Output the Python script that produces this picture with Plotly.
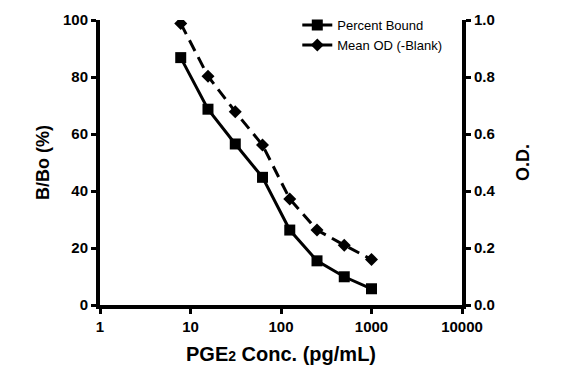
import plotly.graph_objects as go

conc = [7.8, 15.6, 31.25, 62.5, 125, 250, 500, 1000]
percent_bound = [86.8, 68.7, 56.5, 44.8, 26.3, 15.5, 9.9, 5.7]
mean_od = [0.988, 0.803, 0.678, 0.561, 0.372, 0.263, 0.21, 0.160]
x_ticks = [1, 10, 100, 1000, 10000]
y_left_ticks = [0, 20, 40, 60, 80, 100]
y_right_ticks = [0.0, 0.2, 0.4, 0.6, 0.8, 1.0]

FONT = "Liberation Sans, Arial, sans-serif"

fig = go.Figure()
fig.add_trace(go.Scatter(
    x=conc, y=percent_bound, name="Percent Bound", mode="lines+markers",
    line=dict(color="black", width=3),
    marker=dict(symbol="square", size=11, color="black"),
))
fig.add_trace(go.Scatter(
    x=conc, y=mean_od, name="Mean OD (-Blank)", mode="lines+markers",
    line=dict(color="black", width=3, dash="12px,7px"),
    marker=dict(symbol="diamond", size=10, color="black"),
    yaxis="y2",
))

tickfont = dict(family=FONT, size=15, color="black", weight="bold")
titlefont = dict(family=FONT, size=18, color="black", weight="bold")

fig.update_layout(
    width=557, height=369,
    margin=dict(l=92, r=103, t=12, b=72, autoexpand=False),
    paper_bgcolor="white", plot_bgcolor="white",
    showlegend=True,
    legend=dict(x=0.545, y=1.035, xanchor="left", yanchor="top",
                bgcolor="rgba(0,0,0,0)", font=dict(family=FONT, size=13, color="black"),
                tracegroupgap=0, itemwidth=30),
    xaxis=dict(
        type="log", range=[0, 4], tickvals=x_ticks, ticktext=[str(v) for v in x_ticks],
        showline=True, linecolor="black", linewidth=4, ticks="outside", ticklen=5,
        tickwidth=3, tickcolor="black", showgrid=False, zeroline=False,
        tickfont=tickfont, automargin=False,
        title=dict(text="PGE<span style='font-size:14px'>2</span> Conc. (pg/mL)",
                   font=dict(family=FONT, size=20, color="black", weight="bold"), standoff=14),
    ),
    yaxis=dict(
        range=[0, 100], tickvals=y_left_ticks,
        showline=True, linecolor="black", linewidth=4, ticks="outside", ticklen=5,
        tickwidth=3, tickcolor="black", showgrid=False, zeroline=False,
        tickfont=tickfont, automargin=False,
        title=dict(text="B/Bo (%)", font=titlefont, standoff=10),
    ),
    yaxis2=dict(
        range=[0, 1.0], tickvals=y_right_ticks, ticktext=[f"{v:.1f}" for v in y_right_ticks],
        overlaying="y", side="right",
        showline=True, linecolor="black", linewidth=4, ticks="outside", ticklen=5,
        tickwidth=3, tickcolor="black", showgrid=False, zeroline=False,
        tickfont=tickfont, automargin=False,
        title=dict(text="O.D.", font=titlefont, standoff=23),
    ),
)

fig.write_html("out.html")
